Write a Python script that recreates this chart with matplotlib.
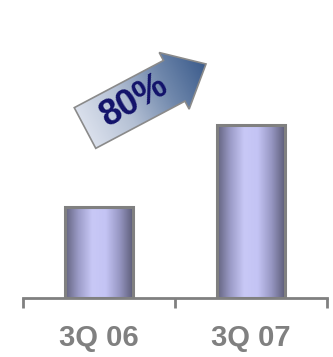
import matplotlib
matplotlib.use("Agg")
import matplotlib.pyplot as plt
import numpy as np
from matplotlib.colors import LinearSegmentedColormap
from matplotlib.patches import FancyArrow

categories = ["3Q 06", "3Q 07"]
values = [1.0, 1.9]
growth_label = "80%"

W, H = 333, 357
fig = plt.figure(figsize=(W / 100, H / 100), dpi=100)

# main bar axes
ax = fig.add_axes([23 / W, (H - 298) / H, 304 / W, 298 / H])
ax.set_xlim(0, 2)
ax.set_ylim(0, 3.27)
for s in ["top", "right", "left"]:
    ax.spines[s].set_visible(False)
ax.spines["bottom"].set_color("#808080")
ax.spines["bottom"].set_linewidth(2)
ax.set_yticks([])

pos = np.arange(len(categories)) + 0.5
ax.set_xticks(pos)
ax.set_xticklabels(categories, fontsize=21, fontweight="bold", color="#808080",
                   family="Liberation Sans")
ax.tick_params(axis="x", which="major", length=0, pad=19)
ax.set_xticks([0, 1, 2], minor=True)
ax.tick_params(axis="x", which="minor", length=7, width=2, color="#808080")

bar_cmap = LinearSegmentedColormap.from_list(
    "bar", ["#62627e", "#9c9cc8", "#c8c8f6", "#c4c4f4", "#9898c4", "#5e5e7a"])
bars = ax.bar(pos, values, width=0.447, color="none", edgecolor="#808080",
              linewidth=2.2, zorder=3)
grad = np.linspace(0, 1, 256).reshape(1, -1)
for b in bars:
    x0, y0 = b.get_x(), b.get_y()
    im = ax.imshow(grad, cmap=bar_cmap, aspect="auto", zorder=2,
                   extent=[x0, x0 + b.get_width(), y0, y0 + b.get_height()])
    im.set_clip_path(b)
ax.set_xlim(0, 2)
ax.set_ylim(0, 3.27)

# overlay for arrow in pixel coords
ov = fig.add_axes([0, 0, 1, 1])
ov.set_xlim(0, W)
ov.set_ylim(H, 0)
ov.axis("off")

tail = np.array([85.0, 128.0])
tip = np.array([206.0, 64.0])
d = tip - tail
arrow = FancyArrow(tail[0], tail[1], d[0], d[1], width=46, head_width=64,
                   head_length=36, length_includes_head=True,
                   facecolor="none", edgecolor="#8a8a8a", linewidth=1.2, zorder=3)
ov.add_patch(arrow)
xx, yy = np.meshgrid(np.linspace(0, W, W), np.linspace(0, H, H))
u = d / np.linalg.norm(d)
proj = ((xx - tail[0]) * u[0] + (yy - tail[1]) * u[1]) / np.linalg.norm(d)
arr_cmap = LinearSegmentedColormap.from_list("arr", ["#dae0ec", "#b4c0d4", "#7088ac", "#3c5c8c"])
im = ov.imshow(np.clip(proj, 0, 1), cmap=arr_cmap, extent=[0, W, H, 0],
               origin="upper", zorder=2, aspect="auto")
im.set_clip_path(arrow)
ov.set_xlim(0, W)
ov.set_ylim(H, 0)

ov.text(134, 101, growth_label, rotation=30, ha="center", va="center",
        fontsize=26, fontweight="bold", color="#12126a", family="Liberation Sans",
        zorder=4)

fig.savefig("out.png", dpi=100)
